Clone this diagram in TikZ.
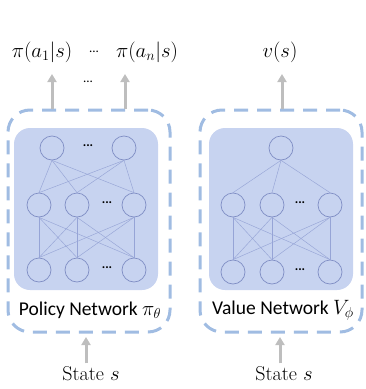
\documentclass[tikz,border=0pt]{standalone}
\usepackage{fontspec}
\usepackage{amsmath,amssymb}
\usetikzlibrary{arrows.meta}
\newfontfamily\carlito{Carlito}
\definecolor{netfill}{RGB}{199,211,240}
\definecolor{neuronline}{RGB}{128,142,196}
\definecolor{wireline}{RGB}{150,164,214}
\definecolor{dashline}{RGB}{160,188,226}
\definecolor{flowgray}{RGB}{190,190,190}
\tikzset{
  neuron/.style={draw=neuronline, fill=netfill, circle, minimum size=24pt, inner sep=0pt, line width=0.7pt},
  wire/.style={draw=wireline, line width=0.45pt},
  outline/.style={draw=dashline, line width=3pt, dash pattern=on 14pt off 9pt, rounded corners=22pt, inner sep=0pt},
  body/.style={fill=netfill, rounded corners=16pt, inner sep=0pt},
  flow/.style={draw=flowgray, line width=3pt, -{Triangle[width=9pt,length=8pt]}},
  dots/.style={font=\carlito\fontsize{13}{13}\selectfont\bfseries},
  big/.style={font=\fontsize{20}{24}\selectfont},
}
\def\netlabel#1{\carlito\fontsize{19.5}{22}\selectfont #1}

\begin{document}
\begin{tikzpicture}[x=1pt,y=-1pt]
\useasboundingbox (0,0) rectangle (365,389);
% policy network
\node[outline, minimum width=162pt, minimum height=222pt] (polbox) at (89,221) {};
\node[body, minimum width=144pt, minimum height=162pt] (polbody) at (86,209) {};
\node[neuron] (p1a) at (52,148) {};
\node[neuron] (p1b) at (124,148) {};
\node[dots] (p1d) at (88,146) {...};
\node[neuron] (p2a) at (39,205) {};
\node[neuron] (p2b) at (77,205) {};
\node[neuron] (p2c) at (134,205) {};
\node[dots] (p2d) at (107,203) {...};
\node[neuron] (p3a) at (39,270) {};
\node[neuron] (p3b) at (77,270) {};
\node[neuron] (p3c) at (134,270) {};
\node[dots] (p3d) at (107,268) {...};
\foreach \u in {p1a,p1b}
  \foreach \v in {p2a,p2b,p2c}
    \draw[wire] (\u.south) -- (\v.north);
\foreach \u in {p2a,p2b,p2c}
  \foreach \v in {p3a,p3b,p3c}
    \draw[wire] (\u.south) -- (\v.north);
\node (polname) at (90,310) {\netlabel{Policy Network $\pi_\theta$}};

% value network
\node[outline, minimum width=162pt, minimum height=222pt] (valbox) at (281,221) {};
\node[body, minimum width=144pt, minimum height=162pt] (valbody) at (281,209) {};
\node[neuron] (v1a) at (281,148) {};
\node[neuron] (v2a) at (233,205) {};
\node[neuron] (v2b) at (272,205) {};
\node[neuron] (v2c) at (330,205) {};
\node[dots] (v2d) at (300,203) {...};
\node[neuron] (v3a) at (233,272) {};
\node[neuron] (v3b) at (272,272) {};
\node[neuron] (v3c) at (330,272) {};
\node[dots] (v3d) at (300,270) {...};
\foreach \v in {v2a,v2b,v2c}
  \draw[wire] (v1a.south) -- (\v.north);
\foreach \u in {v2a,v2b,v2c}
  \foreach \v in {v3a,v3b,v3c}
    \draw[wire] (\u.south) -- (\v.north);
\node (valname) at (283,310) {\netlabel{Value Network $V_\phi$}};

% outputs
\node[big] (pa1) at (42,52) {$\pi(a_1|s)$};
\node (pdots) at (94,52) {\carlito\fontsize{13}{13}\selectfont ...};
\node[big] (pan) at (147,52) {$\pi(a_n|s)$};
\node[big] (vs) at (280,52) {$v(s)$};
\node (adots) at (88,82) {\carlito\fontsize{13}{13}\selectfont ...};
\coordinate (o1) at (52,74);
\coordinate (o2) at (125,74);
\coordinate (o3) at (282,74);
\draw[flow] (polbox.north -| o1) -- (o1);
\draw[flow] (polbox.north -| o2) -- (o2);
\draw[flow] (valbox.north -| o3) -- (o3);

% inputs
\node[big] (pstate) at (91,374) {State $s$};
\node[big] (vstate) at (284,374) {State $s$};
\coordinate (i1) at (86,337);
\coordinate (i2) at (280,337);
\draw[flow] (pstate.north -| i1) -- (i1);
\draw[flow] (vstate.north -| i2) -- (i2);
\end{tikzpicture}
\end{document}
